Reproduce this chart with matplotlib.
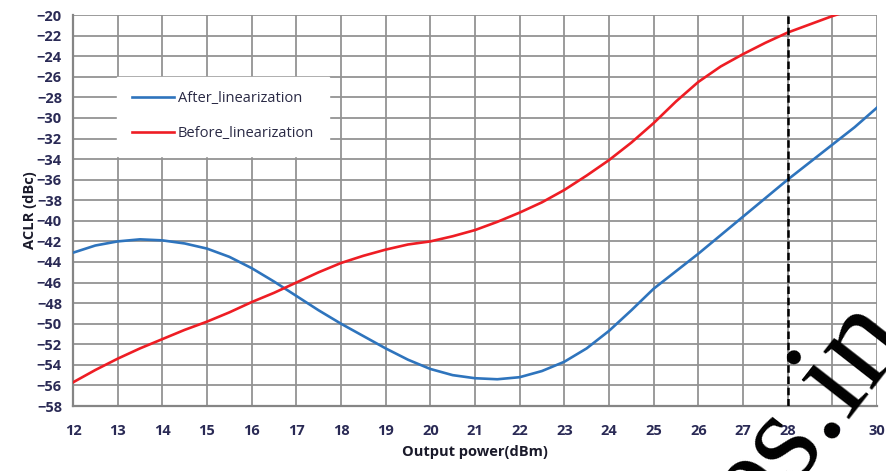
import numpy as np
import matplotlib
matplotlib.use("Agg")
import matplotlib.pyplot as plt

# 0.5 dBm steps
power = [12, 12.5, 13, 13.5, 14, 14.5, 15, 15.5, 16, 16.5, 17, 17.5, 18, 18.5,
         19, 19.5, 20, 20.5, 21, 21.5, 22, 22.5, 23, 23.5, 24, 24.5, 25, 25.5,
         26, 26.5, 27, 27.5, 28, 28.5, 29, 29.5, 30]
aclr_after = [-43.1, -42.4, -42.0, -41.8, -41.9, -42.2, -42.7, -43.5, -44.6, -45.9,
              -47.3, -48.7, -50.0, -51.2, -52.4, -53.5, -54.4, -55.0, -55.3, -55.4,
              -55.2, -54.6, -53.7, -52.4, -50.7, -48.7, -46.6, -44.9, -43.2, -41.4,
              -39.6, -37.8, -36.0, -34.3, -32.6, -30.9, -29.0]
aclr_before = [-55.7, -54.5, -53.4, -52.4, -51.5, -50.6, -49.8, -48.9, -47.9, -47.0,
               -46.0, -45.0, -44.1, -43.4, -42.8, -42.3, -42.0, -41.5, -40.9, -40.1,
               -39.2, -38.2, -37.0, -35.6, -34.1, -32.4, -30.5, -28.4, -26.5, -25.0,
               -23.8, -22.7, -21.7, -20.9, -20.1, -19.4, -18.7]
marker_power = 28

xticks = list(range(12, 31))
yticks = list(range(-58, -19, 2))

fig = plt.figure(figsize=(8.86, 4.71), dpi=100)
ax = fig.add_axes([0.0824, 0.138, 0.9074, 0.830])

ax.plot(power, aclr_after, color="#2e74bd", linewidth=1.9, label="After_linearization", zorder=3)
ax.plot(power, aclr_before, color="#ee1d24", linewidth=1.9, label="Before_linearization", zorder=3)
ax.axvline(marker_power, color="black", linewidth=1.8, linestyle=(0, (3, 1.5)), zorder=4)

ax.set_xlim(12, 30)
ax.set_ylim(-58, -20)
ax.set_xticks(xticks)
ax.set_yticks(yticks)
ax.grid(True, color="#939393", linewidth=1.3)
ax.set_axisbelow(True)
for s in ["top", "right"]:
    ax.spines[s].set_visible(False)
for s in ["left", "bottom"]:
    ax.spines[s].set_color("#858585")
    ax.spines[s].set_linewidth(1.6)
ax.tick_params(length=0, pad=8, labelsize=10.5, labelcolor="#2a2a55")
ax.tick_params(axis="x", pad=13)
for lbl in ax.get_xticklabels() + ax.get_yticklabels():
    lbl.set_fontweight("bold")
    lbl.set_family("Open Sans")

ax.set_xlabel("Output power(dBm)", fontsize=10.5, fontweight="bold", family="Open Sans",
              color="#1a1a2a", labelpad=5)
ax.set_ylabel("ACLR (dBc)", fontsize=10.5, fontweight="bold", family="Open Sans",
              color="#1a1a2a", labelpad=0)

leg = ax.legend(loc="upper left", bbox_to_anchor=(0.055, 0.842), frameon=True,
                fancybox=False, handlelength=2.9, handletextpad=0.25, labelspacing=1.35,
                borderpad=1.0, borderaxespad=0, prop={"family": "Open Sans", "size": 10.5})
leg.get_frame().set_facecolor("white")
leg.get_frame().set_edgecolor("white")
leg.get_frame().set_alpha(1)
for t in leg.get_texts():
    t.set_color("#2a2a45")

# watermark fragment in the lower right
fig.text(0.912, 0.125, "es.in", fontsize=96, family="Liberation Serif", rotation=52,
         ha="center", va="center", color="black", zorder=10)

fig.savefig("out.png", dpi=100)
